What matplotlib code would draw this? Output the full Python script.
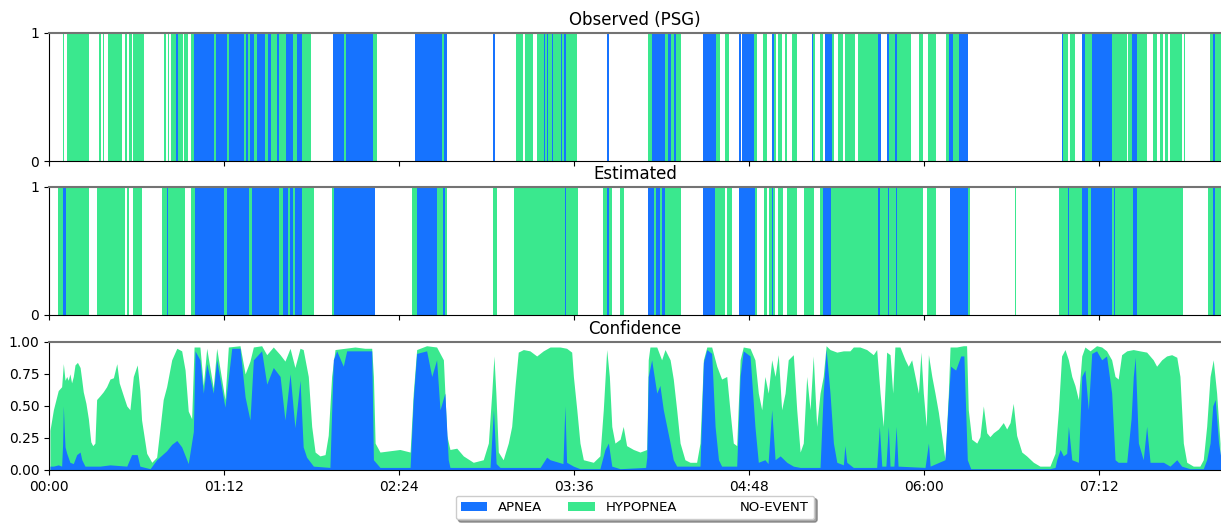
import matplotlib
matplotlib.use("Agg")
import matplotlib.pyplot as plt
from matplotlib.patches import Patch
from matplotlib.ticker import MultipleLocator, FuncFormatter

# colours per class
colors = {"A": "#1673FF", "H": "#3AE88E"}
labels = ["APNEA", "HYPOPNEA", "NO-EVENT"]

# scored events (start min, end min, class); later entries are drawn over earlier ones
obs_events = [
    (5.6, 6.3, "H"), (7.3, 16.5, "H"), (20.7, 21.4, "H"), (22.1, 22.8, "H"), (24.3, 29.9, "H"),
    (31.3, 32.2, "H"), (32.8, 34.0, "H"), (34.7, 39.2, "H"), (47.3, 48.1, "H"), (48.8, 49.5, "H"),
    (50.1, 55.0, "H"), (52.3, 53.0, "A"), (55.6, 57.2, "H"), (58.4, 59.8, "H"),
    (59.8, 104.0, "A"), (67.9, 68.7, "H"), (73.1, 74.1, "H"), (80.2, 81.1, "H"), (82.0, 82.7, "H"),
    (84.5, 85.7, "H"), (88.9, 90.2, "H"), (91.2, 93.7, "H"), (94.6, 97.5, "H"), (100.5, 101.9, "H"),
    (104.0, 107.7, "H"),
    (117.0, 133.5, "A"), (121.4, 122.2, "H"), (133.5, 134.8, "H"),
    (150.6, 163.7, "A"), (161.6, 162.5, "H"),
    (182.8, 183.6, "A"),
    (192.2, 195.2, "H"), (196.0, 199.3, "H"), (200.7, 217.2, "H"),
    (203.5, 204.0, "A"), (204.8, 205.3, "A"), (206.8, 207.3, "A"), (210.8, 211.3, "A"), (212.1, 212.6, "A"),
    (229.7, 230.5, "A"),
    (246.6, 259.9, "H"), (248.0, 253.5, "A"), (254.7, 256.0, "A"), (257.2, 258.0, "A"),
    (269.0, 274.5, "A"), (274.5, 276.1, "H"), (278.2, 279.9, "H"),
    (284.1, 284.6, "A"), (285.0, 290.2, "A"), (290.2, 291.2, "H"), (293.9, 295.3, "H"),
    (297.4, 298.3, "A"), (298.3, 299.2, "H"), (300.1, 301.5, "H"), (302.9, 303.5, "H"), (305.6, 307.7, "H"),
    (313.8, 314.5, "A"), (314.5, 315.2, "H"), (317.3, 318.4, "H"), (319.3, 322.1, "A"), (322.1, 323.0, "H"),
    (324.8, 326.6, "H"), (327.5, 331.6, "H"), (333.0, 341.0, "H"), (341.0, 342.2, "A"),
    (344.7, 345.8, "A"), (345.8, 348.1, "H"), (348.1, 348.8, "A"), (348.8, 354.6, "H"),
    (358.1, 359.8, "H"), (361.9, 365.0, "H"), (369.3, 370.4, "H"), (370.4, 372.0, "A"),
    (372.0, 374.5, "H"), (374.5, 378.3, "A"),
    (416.7, 417.4, "A"), (417.4, 419.4, "H"), (420.1, 422.2, "H"), (424.9, 426.3, "A"), (426.3, 429.1, "H"),
    (429.1, 437.3, "A"), (437.3, 443.5, "H"), (444.2, 445.6, "H"), (445.6, 447.6, "A"), (447.6, 451.7, "H"),
    (454.4, 455.8, "H"), (457.2, 458.5, "H"), (459.2, 460.6, "H"), (461.3, 466.1, "H"), (467.1, 467.5, "H"),
    (477.8, 478.9, "H"), (478.9, 479.9, "A"), (479.9, 482.3, "H"),
]

est_events = [
    (3.8, 5.9, "H"), (5.9, 7.0, "A"), (7.0, 16.6, "H"), (19.9, 31.3, "H"), (32.2, 33.0, "H"), (34.4, 38.1, "H"),
    (46.4, 48.4, "H"), (48.4, 49.0, "A"), (49.0, 56.0, "H"), (58.3, 60.1, "H"),
    (60.1, 82.4, "A"), (72.0, 73.1, "H"), (82.4, 83.5, "H"), (83.5, 94.8, "A"), (94.8, 96.2, "H"),
    (96.2, 98.5, "A"), (98.5, 99.2, "H"), (99.2, 100.5, "A"), (100.5, 101.2, "H"), (101.2, 104.0, "A"),
    (104.0, 109.0, "H"), (116.3, 117.3, "H"), (117.3, 134.1, "A"),
    (149.3, 151.3, "H"), (151.3, 159.8, "A"), (159.8, 162.3, "H"), (162.3, 163.0, "A"), (163.0, 163.9, "H"),
    (182.6, 184.5, "H"), (191.3, 217.8, "H"), (212.3, 212.8, "A"),
    (228.1, 229.5, "H"), (229.5, 230.6, "A"), (230.6, 231.5, "H"), (235.0, 236.6, "H"),
    (246.6, 249.0, "A"), (249.0, 249.8, "H"), (249.8, 251.4, "A"), (251.4, 252.3, "H"), (252.3, 253.5, "A"),
    (253.5, 259.9, "H"),
    (269.0, 274.1, "A"), (274.1, 278.2, "H"), (279.1, 280.9, "H"), (284.1, 290.5, "A"), (290.5, 291.3, "H"),
    (294.3, 295.3, "H"), (296.4, 297.4, "H"), (297.4, 298.1, "A"), (298.1, 298.8, "H"), (300.1, 302.2, "H"),
    (303.6, 307.7, "H"), (310.7, 314.8, "H"), (317.3, 318.6, "H"), (318.6, 321.7, "A"), (321.7, 359.8, "H"),
    (341.3, 341.8, "A"), (345.2, 345.7, "A"), (348.4, 348.9, "A"),
    (361.4, 365.0, "H"), (370.8, 378.3, "A"), (378.3, 379.0, "H"), (397.5, 398.0, "H"),
    (415.8, 425.0, "H"), (419.2, 419.6, "A"), (425.0, 427.7, "A"), (427.7, 428.8, "H"), (428.8, 437.3, "A"),
    (437.3, 446.2, "H"), (438.4, 438.8, "A"), (446.2, 447.8, "A"), (447.8, 466.8, "H"),
    (477.1, 478.9, "H"), (478.9, 479.9, "A"), (479.9, 482.3, "H"),
]

# confidence: P(apnea)+P(hypopnea) and P(apnea), (minute, value)
conf_event = [
    (0.4, 0.31), (1.8, 0.47), (3.8, 0.62), (5.2, 0.65), (5.9, 0.83), (6.6, 0.70), (7.3, 0.73), (7.9, 0.70),
    (8.6, 0.75), (9.3, 0.68), (10.0, 0.73), (10.7, 0.82), (11.7, 0.84), (12.8, 0.80), (13.5, 0.70),
    (14.1, 0.61), (15.2, 0.52), (16.2, 0.40), (17.2, 0.22), (18.0, 0.19), (18.9, 0.21), (19.6, 0.55),
    (21.0, 0.58), (22.3, 0.61), (23.7, 0.65), (25.1, 0.71), (26.5, 0.72), (27.9, 0.83), (28.9, 0.68),
    (30.6, 0.58), (32.0, 0.50), (33.3, 0.47), (34.7, 0.73), (36.3, 0.82), (37.4, 0.62), (38.1, 0.39),
    (40.2, 0.13), (42.3, 0.06), (44.3, 0.10), (45.7, 0.33), (47.0, 0.55), (48.4, 0.65), (50.5, 0.86),
    (52.6, 0.95), (54.6, 0.93), (56.0, 0.78), (57.3, 0.46), (58.7, 0.40), (59.7, 0.96), (60.5, 0.96),
    (62.1, 0.96), (63.5, 0.66), (64.9, 0.95), (67.6, 0.64), (69.0, 0.95), (72.4, 0.55), (73.8, 0.96),
    (78.6, 0.97), (80.7, 0.75), (82.7, 0.85), (84.1, 0.96), (87.5, 0.97), (89.6, 0.90), (92.3, 0.96),
    (95.1, 0.90), (97.1, 0.85), (99.2, 0.95), (101.2, 0.80), (103.3, 0.95), (104.6, 0.94), (106.7, 0.73),
    (108.1, 0.34), (109.5, 0.14), (111.5, 0.11), (113.6, 0.12), (114.9, 0.27), (116.3, 0.73), (117.7, 0.94),
    (121.8, 0.95), (125.9, 0.96), (130.0, 0.95), (132.8, 0.95), (133.5, 0.73), (134.2, 0.21), (136.2, 0.14),
    (140.3, 0.15), (144.4, 0.16), (148.6, 0.14), (149.9, 0.60), (151.3, 0.94), (155.4, 0.97), (159.5, 0.96),
    (162.3, 0.86), (163.7, 0.27), (165.0, 0.16), (167.8, 0.17), (170.5, 0.11), (174.6, 0.06), (178.7, 0.08),
    (180.8, 0.21), (182.2, 0.60), (183.1, 0.89), (183.9, 0.60), (184.9, 0.14), (186.9, 0.08), (189.0, 0.21),
    (190.4, 0.34), (191.8, 0.66), (193.1, 0.92), (195.2, 0.94), (197.9, 0.93), (200.7, 0.89), (203.4, 0.93),
    (206.2, 0.96), (210.3, 0.96), (213.0, 0.95), (215.1, 0.92), (215.8, 0.73), (217.2, 0.47), (218.5, 0.21),
    (219.9, 0.08), (224.0, 0.06), (226.7, 0.11), (228.1, 0.47), (229.5, 0.94), (230.6, 0.73), (231.6, 0.34),
    (232.9, 0.21), (235.0, 0.24), (236.3, 0.34), (237.7, 0.19), (240.5, 0.16), (243.2, 0.14), (246.0, 0.16),
    (246.6, 0.86), (247.3, 0.96), (250.1, 0.96), (252.1, 0.86), (253.5, 0.94), (255.6, 0.86), (256.9, 0.71),
    (258.3, 0.47), (259.7, 0.21), (261.7, 0.08), (263.8, 0.06), (266.5, 0.06), (267.9, 0.21), (269.3, 0.86),
    (270.7, 0.96), (272.7, 0.96), (274.8, 0.81), (276.8, 0.71), (278.9, 0.73), (280.2, 0.47), (281.6, 0.21),
    (283.0, 0.19), (284.4, 0.86), (285.7, 0.96), (288.5, 0.95), (290.5, 0.86), (291.9, 0.60), (293.3, 0.47),
    (294.6, 0.73), (296.0, 0.60), (297.4, 0.86), (298.8, 0.73), (300.1, 0.90), (301.5, 0.47), (302.9, 0.60),
    (304.2, 0.86), (306.3, 0.90), (307.7, 0.47), (309.1, 0.14), (310.4, 0.21), (311.8, 0.73), (313.2, 0.47),
    (314.5, 0.89), (315.9, 0.34), (317.3, 0.60), (318.6, 0.73), (319.8, 0.97), (321.4, 0.94), (324.2, 0.92),
    (326.9, 0.93), (329.6, 0.93), (331.0, 0.96), (333.7, 0.96), (336.5, 0.94), (339.2, 0.90), (340.6, 0.94),
    (342.0, 0.60), (343.3, 0.34), (344.7, 0.92), (346.1, 0.90), (347.2, 0.60), (348.1, 0.96), (350.2, 0.96),
    (352.3, 0.86), (353.6, 0.81), (355.0, 0.86), (356.4, 0.73), (357.8, 0.60), (358.8, 0.92), (359.8, 0.60),
    (361.0, 0.34), (361.9, 0.90), (363.3, 0.73), (364.6, 0.60), (366.0, 0.45), (367.4, 0.26), (368.7, 0.08),
    (370.1, 0.60), (370.8, 0.96), (373.5, 0.96), (376.3, 0.97), (377.6, 0.97), (378.3, 0.47), (379.7, 0.24),
    (381.8, 0.21), (383.1, 0.26), (384.5, 0.50), (385.9, 0.29), (387.2, 0.26), (388.6, 0.29), (390.7, 0.32),
    (392.7, 0.37), (394.1, 0.32), (395.5, 0.37), (396.8, 0.52), (398.2, 0.27), (400.3, 0.14), (402.3, 0.11),
    (405.1, 0.06), (407.8, 0.03), (411.9, 0.03), (414.0, 0.13), (415.4, 0.47), (416.7, 0.89), (418.1, 0.94),
    (419.5, 0.86), (420.9, 0.73), (422.2, 0.66), (423.6, 0.55), (425.0, 0.89), (426.3, 0.96), (428.4, 0.93),
    (431.1, 0.97), (433.2, 0.96), (435.2, 0.93), (437.3, 0.86), (438.7, 0.73), (440.0, 0.71), (441.4, 0.90),
    (443.5, 0.93), (446.2, 0.94), (448.9, 0.93), (451.7, 0.92), (454.4, 0.86), (455.8, 0.81), (457.9, 0.86),
    (459.9, 0.89), (462.0, 0.90), (464.1, 0.88), (465.4, 0.73), (466.8, 0.21), (468.2, 0.06), (470.9, 0.03),
    (473.6, 0.03), (475.0, 0.08), (476.4, 0.34), (477.8, 0.73), (479.1, 0.86), (480.5, 0.60), (481.9, 0.21),
]

conf_apnea = [
    (0.4, 0.03), (1.8, 0.03), (3.8, 0.04), (5.2, 0.03), (5.6, 0.20), (5.9, 0.50), (6.3, 0.30), (6.6, 0.18),
    (7.3, 0.13), (8.6, 0.06), (10.0, 0.05), (11.4, 0.12), (12.8, 0.14), (13.5, 0.08), (14.8, 0.03),
    (21.0, 0.03), (25.1, 0.04), (32.0, 0.03), (34.0, 0.12), (36.3, 0.12), (37.4, 0.03), (41.6, 0.01),
    (44.3, 0.08), (48.4, 0.15), (50.5, 0.20), (52.6, 0.23), (54.6, 0.18), (57.3, 0.05), (59.4, 0.30),
    (60.1, 0.93), (62.1, 0.86), (63.5, 0.60), (64.9, 0.83), (67.6, 0.60), (69.0, 0.86), (72.4, 0.49),
    (75.2, 0.95), (78.6, 0.95), (80.7, 0.57), (82.7, 0.39), (84.1, 0.86), (87.5, 0.93), (89.6, 0.67),
    (92.3, 0.80), (95.1, 0.73), (97.1, 0.39), (99.2, 0.75), (101.2, 0.33), (103.3, 0.70), (104.6, 0.18),
    (106.0, 0.10), (108.8, 0.03), (115.6, 0.02), (117.0, 0.86),
    (118.4, 0.93), (121.1, 0.81), (122.5, 0.93), (128.0, 0.93), (132.8, 0.93), (133.5, 0.08), (136.2, 0.02),
    (148.6, 0.02), (149.9, 0.55), (151.3, 0.91), (155.4, 0.93), (157.5, 0.73), (159.5, 0.86), (160.9, 0.47),
    (162.9, 0.60), (164.3, 0.08), (165.0, 0.02), (181.5, 0.02), (182.9, 0.47), (184.0, 0.05), (185.6, 0.02),
    (202.1, 0.02), (204.8, 0.10), (206.2, 0.08), (211.5, 0.05), (212.3, 0.50), (213.0, 0.06), (215.8, 0.03),
    (218.5, 0.01), (226.7, 0.01), (228.8, 0.16), (230.2, 0.21), (231.6, 0.03), (235.0, 0.01), (245.5, 0.02),
    (246.0, 0.10), (246.6, 0.73), (248.0, 0.86), (250.1, 0.60), (251.4, 0.66), (252.8, 0.47), (254.2, 0.34),
    (255.6, 0.21), (256.9, 0.08), (258.3, 0.03), (267.9, 0.03), (269.3, 0.84), (270.7, 0.94), (272.7, 0.91),
    (274.1, 0.34), (275.5, 0.08), (276.8, 0.03), (283.0, 0.03), (284.4, 0.73), (285.7, 0.93), (288.5, 0.89),
    (290.5, 0.34), (291.9, 0.06), (294.6, 0.08), (295.9, 0.05), (297.4, 0.47), (298.8, 0.08), (300.9, 0.11),
    (303.6, 0.06), (306.3, 0.03), (309.1, 0.02), (317.3, 0.02), (318.6, 0.60), (319.8, 0.94), (321.4, 0.60),
    (322.8, 0.21), (324.2, 0.06), (326.9, 0.04), (327.5, 0.19), (328.3, 0.06), (331.0, 0.02), (340.6, 0.02),
    (341.7, 0.34), (342.7, 0.03), (344.4, 0.03), (345.4, 0.34), (346.1, 0.03), (347.7, 0.03), (348.6, 0.34),
    (349.4, 0.03), (360.5, 0.02), (361.9, 0.21), (362.6, 0.03), (368.7, 0.08), (370.1, 0.55), (371.0, 0.81),
    (373.1, 0.78), (375.2, 0.89), (376.5, 0.89), (377.9, 0.08), (379.3, 0.01), (411.9, 0.01), (414.0, 0.02),
    (414.7, 0.08), (416.1, 0.16), (417.4, 0.11), (418.8, 0.13), (419.5, 0.34), (420.9, 0.08), (423.6, 0.06),
    (425.0, 0.73), (426.3, 0.78), (427.7, 0.47), (429.1, 0.91), (431.1, 0.93), (433.2, 0.86), (435.2, 0.89),
    (437.3, 0.60), (438.7, 0.08), (440.0, 0.06), (443.5, 0.06), (445.3, 0.40), (446.2, 0.73), (447.0, 0.88),
    (448.3, 0.21), (450.3, 0.08), (451.7, 0.34), (453.1, 0.06), (458.6, 0.06), (461.3, 0.03), (464.1, 0.08),
    (466.1, 0.03), (469.5, 0.01), (475.0, 0.01), (476.4, 0.08), (477.8, 0.21), (478.9, 0.50), (479.9, 0.55),
    (481.3, 0.21), (482.4, 0.08),
]

t_end = 482.3

fig = plt.figure(figsize=(12.21, 5.25), dpi=100)
left, width, height = 49 / 1221, 1 - 49 / 1221, 0.244
ax1 = fig.add_axes([left, 0.6933, width, height])
ax2 = fig.add_axes([left, 0.4000, width, height])
ax3 = fig.add_axes([left, 0.1048, width, height])


def fmt_time(v, pos):
    v = int(round(v))
    return f"{v // 60:02d}:{v % 60:02d}"


def draw_events(ax, events):
    for s, e, c in events:
        ax.axvspan(s, e, color=colors[c], lw=0)


draw_events(ax1, obs_events)
draw_events(ax2, est_events)

te, ve = zip(*conf_event)
ta, va = zip(*conf_apnea)
ax3.fill_between(te, 0, ve, color=colors["H"], lw=0)
ax3.fill_between(ta, 0, va, color=colors["A"], lw=0)

for ax, title in zip([ax1, ax2, ax3], ["Observed (PSG)", "Estimated", "Confidence"]):
    ax.set_xlim(0, t_end)
    ax.set_ylim(0, 1)
    ax.set_title(title, fontsize=12)
    ax.xaxis.set_major_locator(MultipleLocator(72))
    ax.xaxis.set_major_formatter(FuncFormatter(fmt_time))
    ax.spines["right"].set_visible(False)
    ax.spines["top"].set_color("0.45")
    ax.spines["top"].set_linewidth(1.5)

for ax in [ax1, ax2]:
    ax.set_yticks([0, 1])
    ax.tick_params(axis="x", labelbottom=False)

ax3.set_yticks([0, 0.25, 0.5, 0.75, 1.0])
ax3.yaxis.set_major_formatter(FuncFormatter(lambda v, p: f"{v:.2f}"))

handles = [Patch(facecolor=colors["A"]), Patch(facecolor=colors["H"]), Patch(facecolor="white")]
ax3.legend(handles, labels, loc="upper center", bbox_to_anchor=(0.5, -0.15), ncol=3,
           fontsize=9.5, shadow=True)

fig.savefig("out.png", dpi=100)
